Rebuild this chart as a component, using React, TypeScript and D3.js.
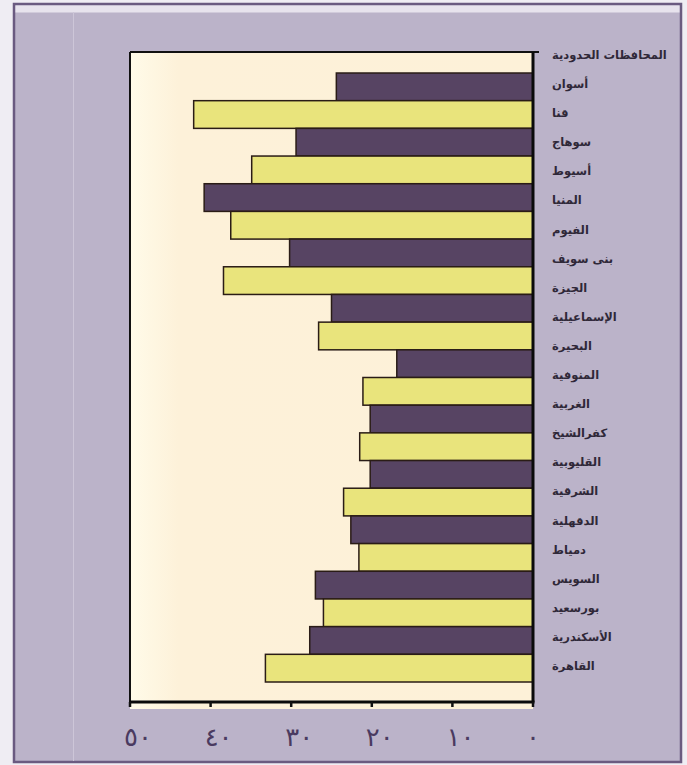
import React from "react";
import * as d3 from "d3";

// Governorates, top to bottom
const governorates = [
  "المحافظات الحدودية",
  "أسوان",
  "قنا",
  "سوهاج",
  "أسيوط",
  "المنيا",
  "الفيوم",
  "بنى سويف",
  "الجيزة",
  "الإسماعيلية",
  "البحيرة",
  "المنوفية",
  "الغربية",
  "كفرالشيخ",
  "القليوبية",
  "الشرقية",
  "الدقهلية",
  "دمياط",
  "السويس",
  "بورسعيد",
  "الأسكندرية",
  "القاهرة",
];

// Percentage per governorate
const values = [
  24.4, 42.1, 29.4, 34.9, 40.8, 37.5, 30.2, 38.4, 25.0, 26.6, 16.9, 21.1, 20.2,
  21.5, 20.2, 23.5, 22.6, 21.6, 27.0, 26.0, 27.7, 33.2,
];

const tickValues = [0, 10, 20, 30, 40, 50];
const tickLabels = ["٠", "١٠", "٢٠", "٣٠", "٤٠", "٥٠"];

const W = 687;
const H = 765;

const plot = { left: 130, right: 533, top: 52, bottom: 702 };
const barTop = 73;
const barBottom = 682;

const DARK = "#574463";
const LIGHT = "#e9e47c";
const EDGE = "#2a1c16";

export default function App() {
  // value axis runs right-to-left: 0 at the right edge, 50 at the left
  const x = d3.scaleLinear().domain([0, 50]).range([plot.right, plot.left]);
  const y = d3
    .scaleBand<string>()
    .domain(governorates)
    .range([barTop, barBottom])
    .paddingInner(0);
  // label column is spaced on its own grid
  const yLabel = d3.scalePoint<string>().domain(governorates).range([55, 666]);

  const rows = governorates.map((g, i) => ({ g, v: values[i], i }));

  return (
    <svg
      width={W}
      height={H}
      viewBox={`0 0 ${W} ${H}`}
      style={{ position: "absolute", left: 0, top: 0 }}
    >
      <defs>
        <linearGradient id="plotFill" x1="0" x2="1" y1="0" y2="0">
          <stop offset="0" stopColor="#fffbe9" />
          <stop offset="0.12" stopColor="#fdf1d9" />
          <stop offset="1" stopColor="#fdf1d8" />
        </linearGradient>
      </defs>

      {/* page and frame */}
      <rect x={0} y={0} width={W} height={H} fill="#efedf3" />
      <rect
        x={14}
        y={4}
        width={667}
        height={758}
        fill="#bbb3c9"
        stroke="#6a5a80"
        strokeWidth={2.5}
      />
      <rect x={15.5} y={5.5} width={664} height={7} fill="#e7e3ed" />
      <line x1={73.5} x2={73.5} y1={12} y2={761} stroke="#cdc6d8" strokeWidth={1} />

      {/* plot area */}
      <rect
        x={plot.left}
        y={plot.top}
        width={plot.right - plot.left}
        height={plot.bottom - plot.top + 7}
        fill="url(#plotFill)"
      />

      {/* bars */}
      {rows.map((r) => (
        <rect
          key={r.g}
          x={x(r.v)}
          y={y(r.g)!}
          width={x(0) - x(r.v)}
          height={y.bandwidth()}
          fill={r.i % 2 === 0 ? DARK : LIGHT}
          stroke={EDGE}
          strokeWidth={1.5}
        />
      ))}

      {/* frame lines of the plot */}
      <line x1={plot.left} x2={plot.right + 6} y1={plot.top} y2={plot.top} stroke="#111" strokeWidth={2} />
      <line x1={plot.left} x2={plot.left} y1={plot.top} y2={plot.bottom} stroke="#111" strokeWidth={2} />
      <line x1={plot.right} x2={plot.right} y1={plot.top} y2={plot.bottom} stroke="#0a0a0a" strokeWidth={3} />
      <line x1={plot.left - 1} x2={plot.right + 1.5} y1={plot.bottom} y2={plot.bottom} stroke="#0a0a0a" strokeWidth={3} />

      {/* value axis ticks and labels */}
      {tickValues.map((t, i) => (
        <g key={t}>
          <line x1={x(t)} x2={x(t)} y1={plot.bottom} y2={plot.bottom + 5} stroke="#111" strokeWidth={2.5} />
          <text
            x={x(t) + (t === 0 ? 0 : 8)}
            y={746}
            textAnchor="middle"
            fontFamily="DejaVu Sans"
            fontSize={26}
            letterSpacing={t === 0 ? 0 : 10}
            fill="#4a3a60"
          >
            {tickLabels[i]}
          </text>
        </g>
      ))}

      {/* governorate labels */}
      {governorates.map((g) => (
        <text
          key={g}
          x={552}
          y={yLabel(g)! + 4}
          textAnchor="start"
          fontFamily="DejaVu Sans"
          fontWeight="bold"
          fontSize={11.5}
          fill="#2f2838"
        >
          {g}
        </text>
      ))}
    </svg>
  );
}
